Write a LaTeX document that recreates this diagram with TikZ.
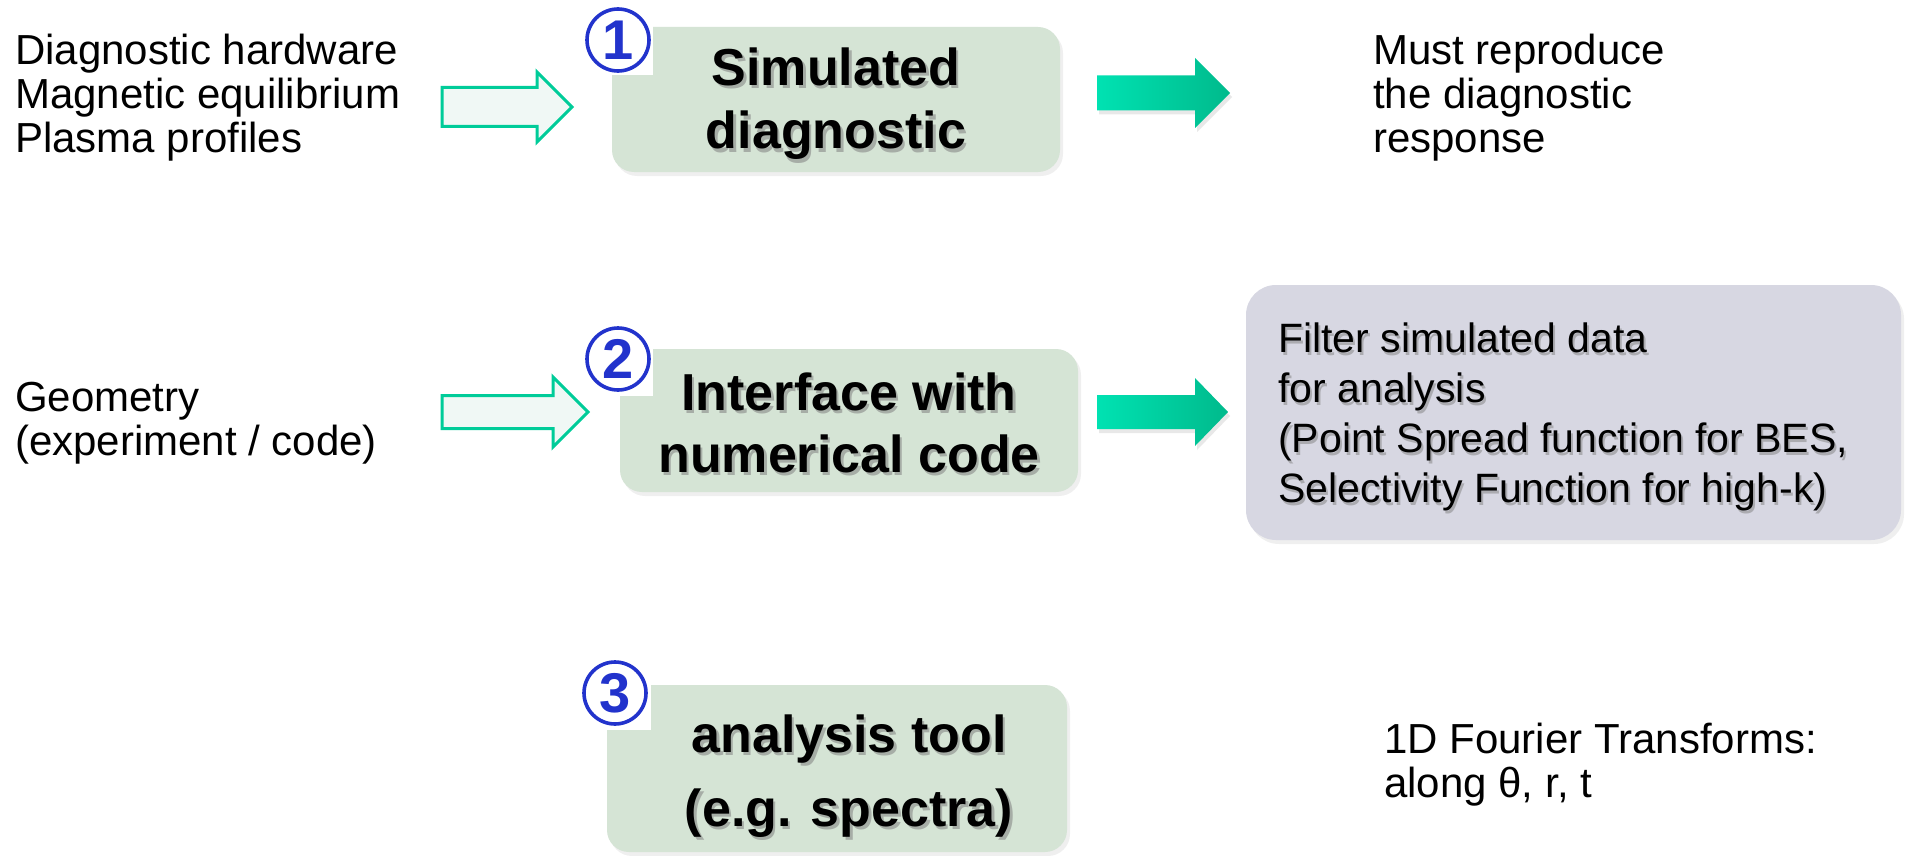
\documentclass[tikz,border=0pt]{standalone}
\usepackage{fontspec}
\setmainfont{Liberation Sans}
\usetikzlibrary{shadows}

\definecolor{stagefill}{RGB}{213,228,213}
\definecolor{filterfill}{RGB}{215,215,226}
\definecolor{arrowline}{RGB}{0,204,153}
\definecolor{arrowfill}{RGB}{240,248,245}
\definecolor{arrowleft}{RGB}{0,226,178}
\definecolor{arrowright}{RGB}{0,186,140}
\definecolor{numblue}{RGB}{34,51,204}

% multi-line nodes are placed by the baseline of their last line
\tikzset{
  plain/.style={font=\fontsize{42}{44}\selectfont, align=left, inner sep=0pt, anchor=base west},
  stage/.style={rounded corners=22pt, fill=stagefill,
    drop shadow={opacity=0.12, shadow xshift=3pt, shadow yshift=-4pt}},
  filterbox/.style={rounded corners=30pt, fill=filterfill,
    drop shadow={opacity=0.12, shadow xshift=3pt, shadow yshift=-4pt}},
  stagetext/.style={align=center, inner sep=0pt, anchor=base},
  numcircle/.style={circle, draw=numblue, line width=3.6pt, minimum size=62pt, inner sep=0pt,
    text=numblue, font=\bfseries\fontsize{56}{56}\selectfont},
  hollowarrow/.style={draw=arrowline, fill=arrowfill, line width=3pt},
  solidarrow/.style={left color=arrowleft, right color=arrowright,
    drop shadow={opacity=0.18, shadow xshift=2pt, shadow yshift=-4pt}},
}

% block arrow: style, x start, x of head base, x tip, y centre, shaft half-width, head half-width
\newcommand{\blkarrow}[7]{%
  \path[#1] (#2,#5-#6) -- (#3,#5-#6) -- (#3,#5-#7) -- (#4,#5) -- (#3,#5+#7)
    -- (#3,#5+#6) -- (#2,#5+#6) -- cycle;}

% bold label with a soft shadow: name, position, font, text
\newcommand{\shadowlabel}[4]{%
  \node[stagetext, font=#3, text=black!50, opacity=0.55, xshift=2.5pt, yshift=-3pt] at (#2) {#4};
  \node[stagetext, font=#3] (#1) at (#2) {#4};}

\begin{document}
\begin{tikzpicture}[x=1pt,y=-1pt]
\useasboundingbox[fill=white] (0,0) rectangle (1921,856);

% inputs on the left
\node[plain] (inputs) at (15,153) {Diagnostic hardware\\Magnetic equilibrium\\Plasma profiles};
\node[plain] (geometry) at (15,455) {Geometry\\(experiment / code)};

% the three stages
\node[stage, minimum width=448pt, minimum height=145pt] (stage1) at (836,99.5) {};
\node[stage, minimum width=458pt, minimum height=143pt] (stage2) at (849,420.5) {};
\node[stage, minimum width=460pt, minimum height=167pt] (stage3) at (837,768.5) {};

\shadowlabel{stage1text}{836,149}{\bfseries\fontsize{52}{63}\selectfont}{Simulated\\diagnostic}
\shadowlabel{stage2text}{849,472}{\bfseries\fontsize{52}{62}\selectfont}{Interface with\\numerical code}
\shadowlabel{stage3text}{849,826}{\bfseries\fontsize{52}{74}\selectfont}{analysis tool\\(e.g. spectra)}

% stage numbers
\fill[white] (585,0) rectangle (653,75);
\node[numcircle] (num1) at (618,40) {1};
\fill[white] (585,320) rectangle (653,396);
\node[numcircle] (num2) at (618,359) {2};
\fill[white] (583,660) rectangle (651,730);
\node[numcircle] (num3) at (615,693) {3};

% input arrows
\blkarrow{hollowarrow}{442}{537}{572}{107}{19.5}{35}
\blkarrow{hollowarrow}{442}{553}{588}{412}{16.5}{35}

% output arrows
\blkarrow{solidarrow}{1097}{1195}{1230}{93}{17.5}{35}
\blkarrow{solidarrow}{1097}{1195}{1228}{412}{17}{34}

% outputs on the right
\node[plain] (response) at (1373,153) {Must reproduce\\the diagnostic\\response};

\node[filterbox, minimum width=655pt, minimum height=255pt] (filter) at (1573.5,412.5) {};
\node[plain, font=\fontsize{41}{50}\selectfont, text=black!50, opacity=0.5, xshift=2pt, yshift=-3pt]
  at (1278,502) {Filter simulated data\\for analysis\\(Point Spread function for BES,\\Selectivity Function for high-k)};
\node[plain, font=\fontsize{41}{50}\selectfont] (filtertext) at (1278,502)
  {Filter simulated data\\for analysis\\(Point Spread function for BES,\\Selectivity Function for high-k)};

\node[plain] (fourier) at (1384,797) {1D Fourier Transforms:\\along θ, r, t};
\end{tikzpicture}
\end{document}
